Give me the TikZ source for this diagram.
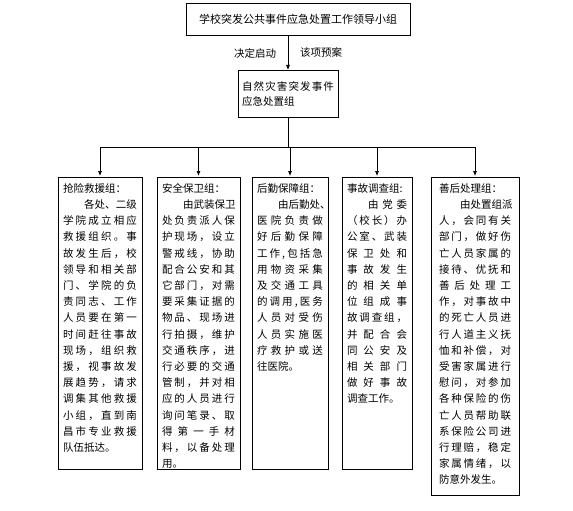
\documentclass[tikz,border=0pt]{standalone}
\usepackage{fontspec}
\setmainfont{Noto Sans CJK SC}
\usetikzlibrary{arrows.meta, positioning}

% justified lines of the group boxes
\newcommand\jline[1]{\noindent\hbox to\linewidth{\jaux#1\jend}\par}
\newcommand\jind[1]{\noindent\hbox to\linewidth{\hskip2em\relax\jaux#1\jend}\par}
\newcommand\jlast[1]{\noindent\hbox to\linewidth{#1\hfill}\par}
\def\jaux#1#2\jend{#1\ifx\relax#2\relax\else\hfill\jaux#2\jend\fi}

\begin{document}
\begin{tikzpicture}[x=1pt, y=-1pt, font=\fontsize{10.5}{16.2}\selectfont,
		grp/.style={draw, line width=0.7pt, anchor=north, align=left, inner xsep=5pt, inner ysep=4pt, text height=11pt, text depth=273pt},
		arr/.style={-{Latex[length=5pt,width=4pt]}, line width=0.7pt}]
			\useasboundingbox (0,0) rectangle (573,511);
			% Boxes, labels and arrows:
			\node[draw, line width=0.7pt, minimum width=224pt, minimum height=32pt, font=\fontsize{11}{13}\selectfont](lead) at (298,19){学校突发公共事件应急处置工作领导小组};
			\node[draw, line width=0.7pt, anchor=north, align=left, text width=92pt, inner xsep=4pt, inner ysep=4pt, text height=16pt, text depth=23pt, font=\fontsize{10.5}{15}\selectfont](nat) at (288,70){\jline{自然灾害突发事件}\jlast{应急处置组}};
			\node(go) at (255,53){决定启动};
			\node(plan) at (321,53){该项预案};
			\draw[arr] (lead.south -| nat.north) -- (nat.north);
			\node[grp, text width=74pt](g1) at (100,177){\jlast{抢险救援组：}\jind{各处、二级}\jline{学院成立相应}\jline{救援组织。事}\jline{故发生后，校}\jline{领导和相关部}\jline{门、学院的负}\jline{责同志、工作}\jline{人员要在第一}\jline{时间赶往事故}\jline{现场，组织救}\jline{援，视事故发}\jline{展趋势，请求}\jline{调集其他救援}\jline{小组，直到南}\jline{昌市专业救援}\jlast{队伍抵达。}};
			\node[grp, text width=73pt](g2) at (198.5,177){\jlast{安全保卫组：}\jind{由武装保卫}\jline{处负责派人保}\jline{护现场，设立}\jline{警戒线，协助}\jline{配合公安和其}\jline{它部门，对需}\jline{要采集证据的}\jline{物品、现场进}\jline{行拍摄，维护}\jline{交通秩序，进}\jline{行必要的交通}\jline{管制，并对相}\jline{应的人员进行}\jline{询问笔录、取}\jline{得第一手材}\jline{料，以备处理}\jlast{用。}};
			\node[grp, text width=66pt](g3) at (290,177){\jlast{后勤保障组：}\jind{由后勤处、}\jline{医院负责做}\jline{好后勤保障}\jline{工作,包括急}\jline{用物资采集}\jline{及交通工具}\jline{的调用,医务}\jline{人员对受伤}\jline{人员实施医}\jline{疗救护或送}\jlast{往医院。}};
			\node[grp, text width=60pt](g4) at (377,177){\jlast{事故调查组:}\jind{由党委}\jline{（校长）办}\jline{公室、武装}\jline{保卫处和}\jline{事故发生}\jline{的相关单}\jline{位组成事}\jline{故调查组，}\jline{并配合会}\jline{同公安及}\jline{相关部门}\jline{做好事故}\jlast{调查工作。}};
			\node[grp, text width=72pt, inner xsep=8pt, text depth=299pt](g5) at (475,177){\jlast{善后处理组：}\jind{由处置组派}\jline{人，会同有关}\jline{部门，做好伤}\jline{亡人员家属的}\jline{接待、优抚和}\jline{善后处理工}\jline{作，对事故中}\jline{的死亡人员进}\jline{行人道主义抚}\jline{恤和补偿，对}\jline{受害家属进行}\jline{慰问，对参加}\jline{各种保险的伤}\jline{亡人员帮助联}\jline{系保险公司进}\jline{行理赔，稳定}\jline{家属情绪，以}\jlast{防意外发生。}};
			\coordinate(bus) at (289,147);
			\draw[line width=0.7pt] (nat.south) -- (nat.south |- bus);
			\draw[line width=0.7pt] (bus -| g1.north) -- (bus -| g5.north);
			\foreach \g in {g1,g2,g3,g4,g5}
				\draw[arr, shorten >=1pt] (bus -| \g.north) -- (\g.north);
		\end{tikzpicture}
\end{document}
